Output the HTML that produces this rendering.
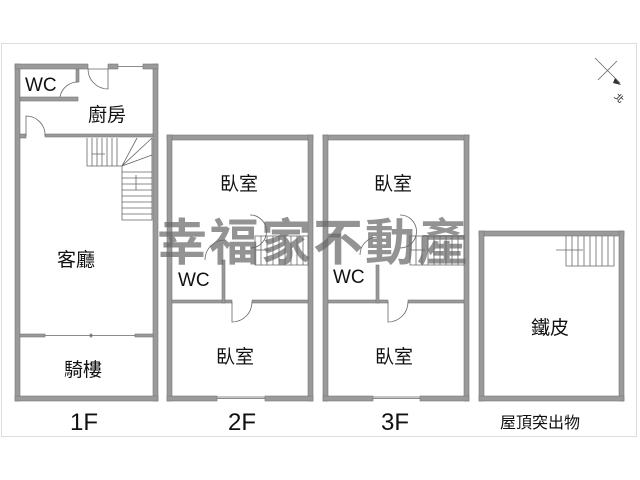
<!DOCTYPE html>
<html><head><meta charset="utf-8"><style>
html,body{margin:0;padding:0;background:#fff;width:640px;height:480px;overflow:hidden}
text{font-family:"Liberation Sans","Noto Sans CJK TC",sans-serif;fill:#111}
</style></head><body>
<svg width="640" height="480" viewBox="0 0 640 480">
<rect x="1.5" y="43.5" width="635" height="393" fill="none" stroke="#ddd" stroke-width="1"/>
<g fill="#9a9a9a" stroke="#777" stroke-width="0.6">
<rect x="15" y="64" width="5" height="337"/>
<rect x="153" y="64" width="5" height="337"/>
<rect x="15" y="396" width="143" height="5"/>
<rect x="15" y="64" width="73" height="5"/>
<rect x="108" y="64" width="10" height="5"/>
<rect x="143" y="64" width="15" height="5"/>
<rect x="20" y="97" width="58" height="4"/>
<rect x="76" y="69" width="3" height="13"/>
<rect x="20" y="134" width="6" height="4"/>
<rect x="45" y="134" width="108" height="3"/>
<rect x="20" y="334" width="25" height="3"/>
<rect x="90" y="334" width="2" height="3"/>
<rect x="135" y="334" width="18" height="3"/>
<rect x="167" y="135" width="146" height="5"/>
<rect x="167" y="135" width="5" height="266"/>
<rect x="308" y="135" width="5" height="266"/>
<rect x="167" y="396" width="50" height="5"/>
<rect x="265" y="396" width="48" height="5"/>
<rect x="172" y="300" width="60" height="3"/>
<rect x="252" y="300" width="56" height="3"/>
<rect x="222" y="260" width="3" height="43"/>
<rect x="323" y="135" width="146" height="5"/>
<rect x="323" y="135" width="5" height="266"/>
<rect x="464" y="135" width="5" height="266"/>
<rect x="323" y="396" width="50" height="5"/>
<rect x="420" y="396" width="49" height="5"/>
<rect x="328" y="300" width="60" height="3"/>
<rect x="408" y="300" width="56" height="3"/>
<rect x="376" y="265" width="3" height="38"/>
<rect x="328" y="234" width="12" height="3"/>
<rect x="479" y="231" width="145" height="5"/>
<rect x="479" y="231" width="5" height="170"/>
<rect x="619" y="231" width="5" height="170"/>
<rect x="479" y="396" width="145" height="5"/>
</g>
<g fill="none" stroke="#666" stroke-width="0.8">
<path d="M60 97 A18 18 0 0 1 78 82"/>
<path d="M88 69 L108 69 M88 69 A20 20 0 0 0 108 89 L108 69"/>
<path d="M118 66.5 L143 66.5"/>
<path d="M26 136 L26 116 A19 19 0 0 1 45 136"/>
<path d="M45 335.5 L135 335.5"/>
<path d="M217 398.5 L265 398.5 M217 397 L265 397"/>
<path d="M373 398.5 L420 398.5 M373 397 L420 397"/>
<path d="M232 302 L232 322 A20 20 0 0 0 252 302"/>
<path d="M388 302 L388 322 A20 20 0 0 0 408 302"/>
<path d="M205 260 A20 20 0 0 1 225 240"/>
<path d="M250 215 A15 15 0 0 1 250 248"/>
<path d="M360 255 A18 18 0 0 1 377 237"/>
<path d="M400 215 A15 15 0 0 1 400 248"/>
<path d="M87 138 L87 166 L122 166 L122 220 L152 220 L152 138"/>
<path d="M92 138v28M97 138v28M102 138v28M107 138v28M112 138v28M117 138v28"/>
<path d="M122 166 L152 138 M122 166 L137 138 M122 166 L152 155"/>
<path d="M122 172h30M122 178h30M122 184h30M122 190h30M122 196h30M122 202h30M122 208h30M122 214h30"/>
<path d="M92 154 L105 154 M136 175 L136 190"/>
<path d="M255 236 L308 236 L308 265 L255 265 Z"/>
<path d="M261 236v29M267 236v29M273 236v29M279 236v29M285 236v29M291 236v29M297 236v29M303 236v29"/>
<path d="M255 250 L270 250"/>
<path d="M410 236 L464 236 L464 265 L410 265 Z"/>
<path d="M416 236v29M422 236v29M428 236v29M434 236v29M440 236v29M446 236v29M452 236v29M458 236v29"/>
<path d="M410 250 L425 250"/>
<path d="M566 236 L566 266 L614 266 L614 236"/>
<path d="M572 236v30M578 236v30M584 236v30M590 236v30M596 236v30M602 236v30M608 236v30"/>
<path d="M556 250 L583 250"/>
<path d="M595 58 L620 83 M598 80 L617 61"/>
</g>
<path d="M615 78 L621 85 L613 83 Z" fill="#333"/>
<text x="616" y="98" font-size="9" transform="rotate(45 616 95)">北</text>
<g font-size="19">
<text x="25" y="91">WC</text>
<text x="88" y="121">廚房</text>
<text x="57" y="266">客廳</text>
<text x="64" y="376">騎樓</text>
<text x="220" y="190">臥室</text>
<text x="178" y="286">WC</text>
<text x="216" y="363">臥室</text>
<text x="374" y="190">臥室</text>
<text x="333" y="283">WC</text>
<text x="375" y="363">臥室</text>
<text x="531" y="334">鐵皮</text>
</g>
<text x="70" y="430" font-size="24">1F</text>
<text x="228" y="430" font-size="24">2F</text>
<text x="381" y="430" font-size="24">3F</text>
<text x="500" y="428" font-size="16">屋頂突出物</text>
<text x="157" y="260" font-size="50" font-weight="bold" style="fill:#666;opacity:0.7" letter-spacing="2">幸福家不動產</text>
</svg>
</body></html>
